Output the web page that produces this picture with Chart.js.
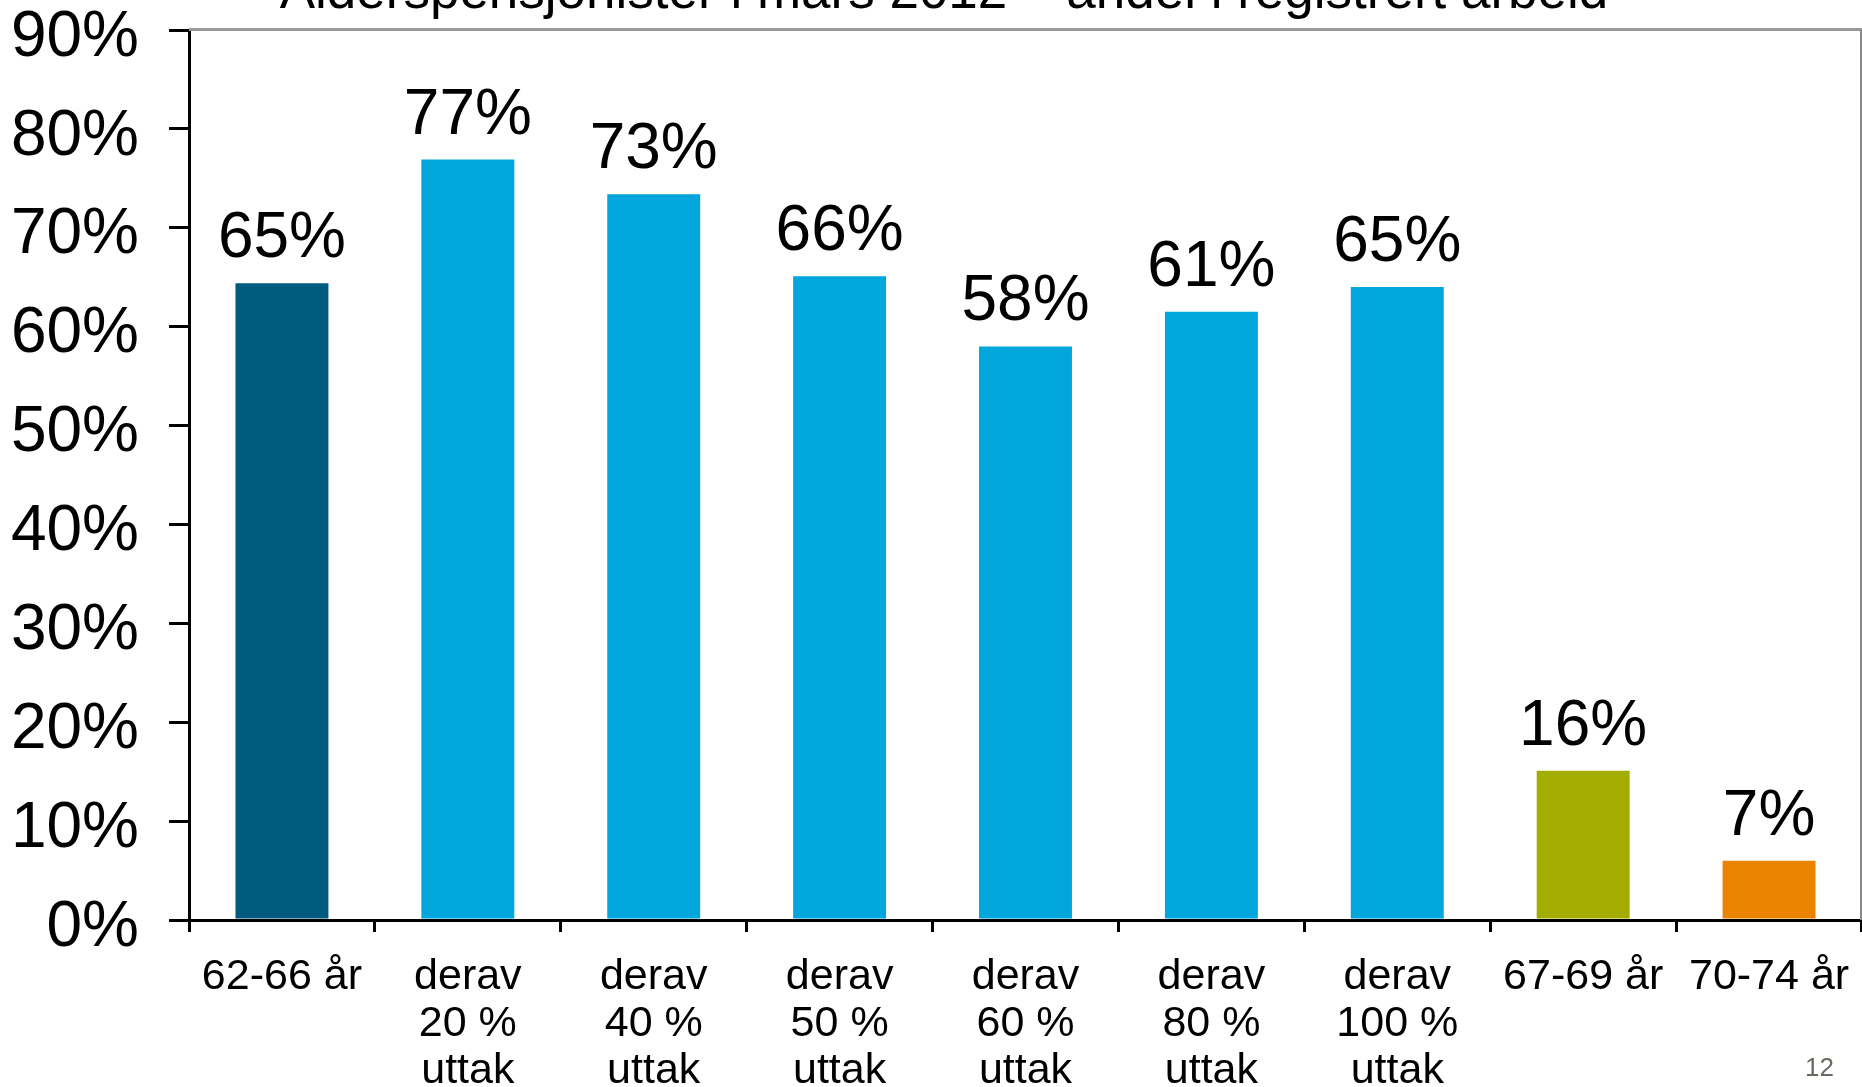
<!DOCTYPE html>
<html>
<head>
<meta charset="utf-8">
<script src="https://cdn.jsdelivr.net/npm/chart.js@4.4.1/dist/chart.umd.min.js"></script>
<style>
  html, body { margin: 0; padding: 0; background: #fff; overflow: hidden; }
  #wrap { position: relative; width: 1862px; height: 1087px; }
  #title {
    position: absolute; left: 0; top: -37px; width: 1888px;
    text-align: center; white-space: nowrap;
    font: 53px/1 "Liberation Sans", Arial, sans-serif; color: #000;
  }
  #pageno {
    position: absolute; left: 1805px; top: 1054px;
    font: 26px/1 "Liberation Sans", Arial, sans-serif; color: #6e6862;
  }
</style>
</head>
<body>
<div id="wrap">
  <canvas id="chart" width="1862" height="1087"></canvas>
  <div id="title">Alderspensjonister i mars 2012 – andel i registrert arbeid</div>
  <div id="pageno">12</div>
</div>
<script>
const categories = [
    ["62-66 år"],
    ["derav", "20 %", "uttak"],
    ["derav", "40 %", "uttak"],
    ["derav", "50 %", "uttak"],
    ["derav", "60 %", "uttak"],
    ["derav", "80 %", "uttak"],
    ["derav", "100 %", "uttak"],
    ["67-69 år"],
    ["70-74 år"],
];
const values = [64.4, 76.9, 73.4, 65.1, 58.0, 61.5, 64.0, 15.1, 6.0];
const valueLabels = ["65%", "77%", "73%", "66%", "58%", "61%", "65%", "16%", "7%"];
const barColors = ["#005b7f", "#00a6dc", "#00a6dc", "#00a6dc", "#00a6dc",
                   "#00a6dc", "#00a6dc", "#a2ad00", "#e98300"];
const yMax = 90;
const yStep = 10;

const FONT = "'Liberation Sans', Arial, sans-serif";

// value labels above each bar
const barLabels = {
    id: "barLabels",
    afterDatasetsDraw(chart) {
        const ctx = chart.ctx;
        const meta = chart.getDatasetMeta(0);
        ctx.save();
        ctx.font = "64px " + FONT;
        ctx.fillStyle = "#000";
        ctx.textAlign = "center";
        ctx.textBaseline = "alphabetic";
        meta.data.forEach((el, i) => {
            ctx.fillText(valueLabels[i], el.x, el.y - 26);
        });
        ctx.restore();
    },
};

// grey frame on top and right of the plot area
const frame = {
    id: "frame",
    afterDraw(chart) {
        const {ctx, chartArea: a} = chart;
        ctx.save();
        ctx.strokeStyle = "#999";
        ctx.lineWidth = 3;
        ctx.beginPath();
        ctx.moveTo(a.left, a.top - 0.5);
        ctx.lineTo(a.right, a.top - 0.5);
        ctx.stroke();
        ctx.strokeStyle = "#888";
        ctx.lineWidth = 2;
        ctx.beginPath();
        ctx.moveTo(a.right - 1, a.top);
        ctx.lineTo(a.right - 1, a.bottom);
        ctx.stroke();
        ctx.restore();
    },
};

new Chart(document.getElementById("chart"), {
    type: "bar",
    data: {
        labels: categories,
        datasets: [{
            data: values,
            backgroundColor: barColors,
            borderWidth: 0,
            barPercentage: 0.5,
            categoryPercentage: 1.0,
        }],
    },
    options: {
        responsive: false,
        animation: false,
        devicePixelRatio: 1,
        layout: {padding: {top: 30, right: 0, left: 0, bottom: 0}},
        plugins: {legend: {display: false}, tooltip: {enabled: false}, title: {display: false}},
        scales: {
            x: {
                grid: {drawOnChartArea: false, drawTicks: true, tickLength: 12,
                       color: "#000", lineWidth: 3, offset: true},
                border: {color: "#000", width: 3},
                ticks: {font: {family: FONT, size: 43, lineHeight: 1.1}, color: "#000",
                        padding: 21, maxRotation: 0, autoSkip: false},
                afterFit(s) { s.height = 1087 - 920; s.paddingLeft = 0; s.paddingRight = 0; },
            },
            y: {
                min: 0, max: yMax,
                grid: {drawOnChartArea: false, drawTicks: true, tickLength: 20,
                       color: "#000", lineWidth: 3},
                border: {color: "#000", width: 3},
                ticks: {stepSize: yStep, callback: v => v + "%",
                        font: {family: FONT, size: 64}, color: "#000",
                        padding: 30, labelOffset: 8},
                afterFit(s) { s.width = 189; s.paddingTop = 0; s.paddingBottom = 0; },
            },
        },
    },
    plugins: [barLabels, frame],
});
</script>
</body>
</html>
